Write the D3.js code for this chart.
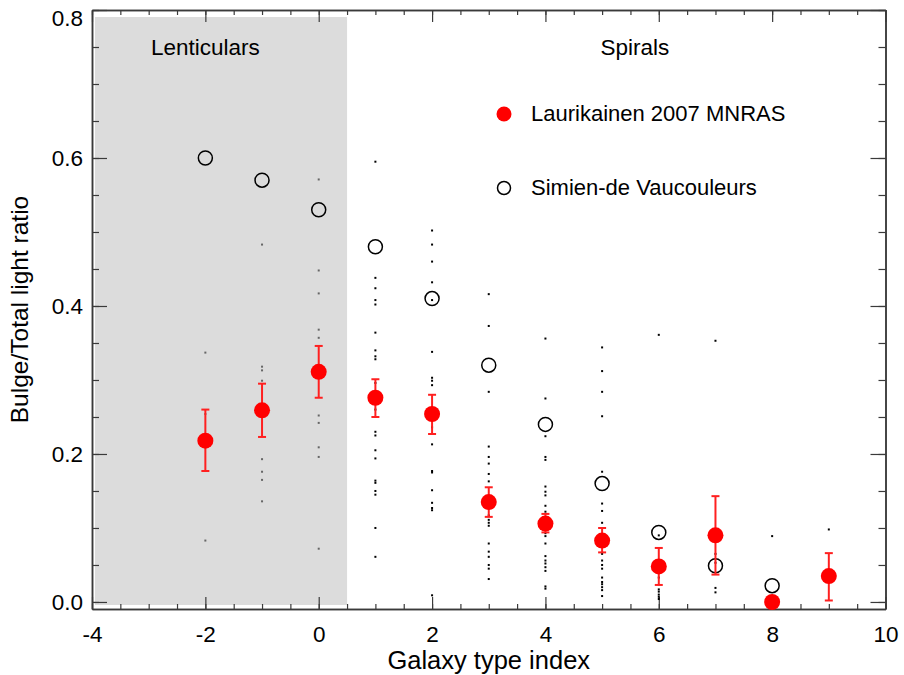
<!DOCTYPE html>
<html>
<head>
<meta charset="utf-8">
<script src="https://cdn.jsdelivr.net/npm/d3@7"></script>
<style>
  html, body { margin: 0; padding: 0; background: #fff; }
  svg { display: block; font-family: "Liberation Sans", Arial, Helvetica, sans-serif; }
</style>
</head>
<body>
<svg id="chart" width="904" height="675"></svg>
<script>
// Hubble type index of each bin
const types = [-2, -1, 0, 1, 2, 3, 4, 5, 6, 7, 8, 9];

// Laurikainen 2007 MNRAS: mean B/T with lower / upper error bounds
const laurMean = [0.218, 0.259, 0.311, 0.276, 0.254, 0.135, 0.106, 0.083, 0.048, 0.090, 0.000, 0.035];
const laurLow  = [0.177, 0.223, 0.276, 0.250, 0.227, 0.115, 0.094, 0.067, 0.023, 0.037, 0.000, 0.002];
const laurHigh = [0.260, 0.295, 0.346, 0.301, 0.280, 0.155, 0.119, 0.100, 0.073, 0.143, 0.000, 0.066];

// Simien & de Vaucouleurs mean B/T (types -2 .. 8)
const simienTypes = [-2, -1, 0, 1, 2, 3, 4, 5, 6, 7, 8];
const simienBT    = [0.600, 0.570, 0.530, 0.480, 0.410, 0.320, 0.240, 0.160, 0.094, 0.049, 0.022];

// Individual galaxy B/T values in each type bin
const galaxyBT = {
  "-2": [0.337, 0.254, 0.083],
  "-1": [0.483, 0.318, 0.313, 0.299, 0.193, 0.176, 0.165, 0.136],
  "0":  [0.571, 0.448, 0.417, 0.368, 0.357, 0.252, 0.242, 0.209, 0.196, 0.072],
  "1":  [0.595, 0.438, 0.424, 0.408, 0.402, 0.364, 0.340, 0.332, 0.328, 0.296, 0.260,
         0.230, 0.225, 0.205, 0.194, 0.164, 0.161, 0.150, 0.145, 0.100, 0.061],
  "2":  [0.502, 0.483, 0.460, 0.432, 0.408, 0.338, 0.303, 0.299, 0.293, 0.236, 0.213,
         0.177, 0.175, 0.151, 0.134, 0.127, 0.124, 0.009],
  "3":  [0.416, 0.373, 0.284, 0.210, 0.196, 0.187, 0.173, 0.163, 0.117, 0.111, 0.107,
         0.103, 0.079, 0.068, 0.061, 0.050, 0.045, 0.031],
  "4":  [0.356, 0.275, 0.224, 0.196, 0.192, 0.156, 0.149, 0.144, 0.130, 0.122, 0.093,
         0.089, 0.079, 0.062, 0.056, 0.052, 0.047, 0.042, 0.021, 0.018],
  "5":  [0.344, 0.312, 0.284, 0.251, 0.176, 0.133, 0.123, 0.107, 0.065, 0.056, 0.050,
         0.045, 0.033, 0.027, 0.024, 0.020, 0.016, 0.008],
  "6":  [0.361, 0.090, 0.033, 0.017, 0.014, 0.010, 0.007, 0.004],
  "7":  [0.353, 0.065, 0.053, 0.019, 0.013],
  "8":  [0.089],
  "9":  [0.098]
};

// Axis ticks
const xMajor = [-4, -2, 0, 2, 4, 6, 8, 10];
const xMinor = d3.range(-4, 10.01, 0.5);
const yMajor = [0.0, 0.2, 0.4, 0.6, 0.8];
const yMinor = d3.range(0, 0.801, 0.05);

// Region labels and legend
const regionLabels = [{ text: "Lenticulars", x: -2.0 }, { text: "Spirals", x: 5.58 }];
const lenticularSpan = [-4, 0.5];
const legendNames = ["Laurikainen 2007 MNRAS", "Simien-de Vaucouleurs"];

const svg = d3.select("#chart");
const plotLeft = 92, plotRight = 885.5, plotTop = 10, plotBottom = 609;

const x = d3.scaleLinear().domain([-4, 10]).range([plotLeft, plotRight]);
const y = d3.scaleLinear().domain([-0.0095, 0.8]).range([plotBottom, plotTop]);

const frameColor = "#3a3a3a";
const tickFont = 22.5;

// Shaded lenticular region
svg.append("rect")
  .attr("x", x(lenticularSpan[0]) + 3)
  .attr("y", plotTop + 7)
  .attr("width", x(lenticularSpan[1]) - x(lenticularSpan[0]) - 3)
  .attr("height", plotBottom - plotTop - 11)
  .attr("fill", "#dcdcdc");

// Axes: major and minor ticks pointing inward on all four sides
function drawAxis(axisFn, scale, ticks, size, fmt, transform) {
  const g = svg.append("g").attr("transform", transform);
  g.call(axisFn(scale).tickValues(ticks).tickSize(size).tickSizeOuter(0)
    .tickFormat(fmt || (() => "")));
  g.select(".domain").attr("stroke", frameColor).attr("stroke-width", 1.5);
  g.selectAll(".tick line").attr("stroke", frameColor).attr("stroke-width", 1.2);
  g.selectAll(".tick text").attr("fill", "#000").attr("font-size", tickFont)
    .attr("font-family", "Liberation Sans, Arial, sans-serif");
  return g;
}

// bottom (plain hyphen for negative labels)
drawAxis(d3.axisBottom, x, xMinor, -5, null, `translate(0,${plotBottom})`);
const gb = drawAxis(d3.axisBottom, x, xMajor, -12, d => String(d), `translate(0,${plotBottom})`);
gb.selectAll(".tick text").attr("y", 17).attr("dy", "0.71em");
// top
drawAxis(d3.axisTop, x, xMinor, -5, null, `translate(0,${plotTop})`);
drawAxis(d3.axisTop, x, xMajor, -12, null, `translate(0,${plotTop})`);
// left
drawAxis(d3.axisLeft, y, yMinor, -7, null, `translate(${plotLeft},0)`);
const gl = drawAxis(d3.axisLeft, y, yMajor, -15, d3.format(".1f"), `translate(${plotLeft},0)`);
gl.selectAll(".tick text").attr("x", -9)
  .attr("transform", d => d >= 0.79 ? "translate(0,8)" : null);
// right
drawAxis(d3.axisRight, y, yMinor, -7, null, `translate(${plotRight},0)`);
drawAxis(d3.axisRight, y, yMajor, -15, null, `translate(${plotRight},0)`);

// Axis titles
svg.append("text")
  .attr("x", (plotLeft + plotRight) / 2).attr("y", 669)
  .attr("text-anchor", "middle").attr("font-size", 25.5)
  .text("Galaxy type index");
svg.append("text")
  .attr("transform", `translate(28,${(plotTop + plotBottom) / 2}) rotate(-90)`)
  .attr("text-anchor", "middle").attr("font-size", 24.5)
  .text("Bulge/Total light ratio");

// Region labels
svg.selectAll(".region").data(regionLabels).enter().append("text")
  .attr("x", d => x(d.x)).attr("y", 55)
  .attr("text-anchor", "middle").attr("font-size", 22.5)
  .text(d => d.text);

// Individual galaxies
const dots = [];
Object.keys(galaxyBT).forEach(t => galaxyBT[t].forEach(v => dots.push({ t: +t, v })));
svg.append("g").selectAll("rect").data(dots).enter().append("rect")
  .attr("x", d => x(d.t) - 1).attr("y", d => y(d.v) - 1)
  .attr("width", 2).attr("height", 2)
  .attr("fill", d => d.t <= 0 ? "#666" : "#000");

// Simien-de Vaucouleurs open circles
svg.append("g").selectAll("circle")
  .data(simienTypes.map((t, i) => ({ t, v: simienBT[i] })))
  .enter().append("circle")
  .attr("cx", d => x(d.t)).attr("cy", d => y(d.v)).attr("r", 7)
  .attr("fill", "none").attr("stroke", "#000").attr("stroke-width", 1.5);

// Laurikainen error bars and filled points
const laur = types.map((t, i) => ({ t, m: laurMean[i], lo: laurLow[i], hi: laurHigh[i] }));
const eb = svg.append("g").attr("stroke", "#ff2020").attr("stroke-width", 2);
laur.filter(d => d.hi > d.lo).forEach(d => {
  eb.append("line").attr("x1", x(d.t)).attr("x2", x(d.t)).attr("y1", y(d.lo)).attr("y2", y(d.hi));
  eb.append("line").attr("x1", x(d.t) - 4).attr("x2", x(d.t) + 4).attr("y1", y(d.lo)).attr("y2", y(d.lo));
  eb.append("line").attr("x1", x(d.t) - 4).attr("x2", x(d.t) + 4).attr("y1", y(d.hi)).attr("y2", y(d.hi));
});
svg.append("g").selectAll("circle").data(laur).enter().append("circle")
  .attr("cx", d => x(d.t)).attr("cy", d => y(d.m)).attr("r", 8)
  .attr("fill", "#ff0000");

// Legend
const legend = svg.append("g");
legend.append("circle").attr("cx", 504).attr("cy", 114).attr("r", 7.5).attr("fill", "#ff0000");
legend.append("circle").attr("cx", 504).attr("cy", 188).attr("r", 6.5)
  .attr("fill", "none").attr("stroke", "#000").attr("stroke-width", 1.5);
legend.selectAll("text").data(legendNames).enter().append("text")
  .attr("x", 531).attr("y", (d, i) => 121 + i * 74)
  .attr("font-size", 22).text(d => d);
</script>
</body>
</html>
